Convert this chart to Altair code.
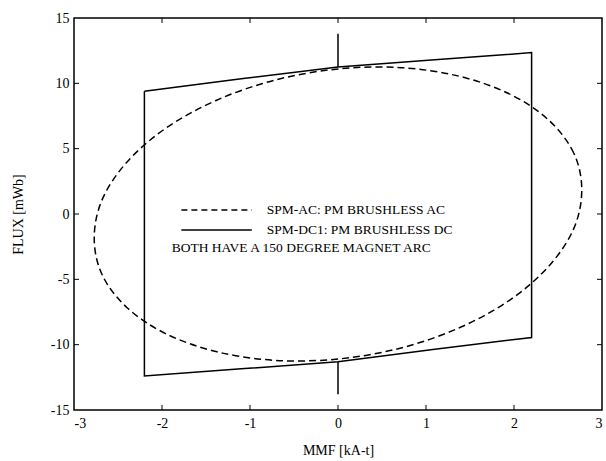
import altair as alt
import pandas as pd

# SPM-AC (dashed ellipse-like loop) (closed loop)
ac_x = [2.77, 2.68, 2.40, 1.96, 1.385, 0.717, 0.0, -0.717, -1.385, -1.96, -2.40, -2.68,
        -2.77, -2.68, -2.40, -1.96, -1.385, -0.717, 0.0, 0.717, 1.385, 1.96, 2.40, 2.68]
ac_y = [1.84, 4.65, 7.15, 9.15, 10.53, 11.20, 11.10, 10.25, 8.69, 6.55, 3.96, 1.10,
        -1.84, -4.65, -7.15, -9.15, -10.53, -11.20, -11.10, -10.25, -8.69, -6.55, -3.96, -1.10]

# SPM-DC1 (solid parallelogram loop)
dc_x = [-2.2, -1.1, 0.0, 1.1, 2.2, 2.2, 1.1, 0.0, -1.1, -2.2, -2.2]
dc_y = [9.4, 10.35, 11.25, 11.8, 12.35, -9.45, -10.35, -11.3, -11.85, -12.4, 9.4]

# vertical spikes at MMF = 0
sp_x = [0.0, 0.0, 0.0, 0.0]
sp_y = [13.8, 11.25, -11.3, -13.8]
sp_seg = ["top", "top", "bot", "bot"]

x_ticks = [-2, -1, 0, 1, 2]
y_ticks = [-10, -5, 0, 5, 10]
x_labels = [-3, -2, -1, 0, 1, 2, 3]
y_labels = [-15, -10, -5, 0, 5, 10, 15]

legend_text = ["SPM-AC: PM BRUSHLESS AC", "SPM-DC1: PM BRUSHLESS DC", "BOTH HAVE A 150 DEGREE MAGNET ARC"]
legend_tx = [-0.81, -0.81, -1.89]
legend_ty = [0.31, -1.22, -2.58]
legend_lx = [-1.78, -0.98]
legend_ly = [0.31, -1.22]

W, H = 528, 392
FONT = "Liberation Serif"

xs = alt.Scale(domain=[-3, 3], nice=False, zero=False)
ys = alt.Scale(domain=[-15, 15], nice=False, zero=False)

ac = pd.DataFrame({"x": ac_x, "y": ac_y, "o": list(range(len(ac_x)))})
dc = pd.DataFrame({"x": dc_x, "y": dc_y, "o": list(range(len(dc_x)))})
sp = pd.DataFrame({"x": sp_x, "y": sp_y, "seg": sp_seg, "o": list(range(len(sp_x)))})

base_x = alt.X("x:Q", scale=xs,
               axis=alt.Axis(values=x_labels, domain=False, ticks=False, grid=False,
                             labelExpr="datum.value + ''", labelFont=FONT, labelFontSize=14,
                             labelColor="black", labelPadding=6,
                             title="MMF  [kA-t]", titleFont=FONT, titleFontSize=14,
                             titleFontWeight="normal", titleColor="black",
                             titleX=W / 2, titleY=40, titleBaseline="middle"))
base_y = alt.Y("y:Q", scale=ys,
               axis=alt.Axis(values=y_labels, domain=False, ticks=False, grid=False,
                             labelExpr="datum.value + ''", labelFont=FONT, labelFontSize=14,
                             labelColor="black", labelPadding=5,
                             title="FLUX  [mWb]", titleFont=FONT, titleFontSize=14,
                             titleFontWeight="normal", titleColor="black",
                             titleX=-56, titleY=H / 2, titleBaseline="middle"))

ac_line = alt.Chart(ac).mark_line(color="black", strokeWidth=1.5, strokeDash=[7, 4],
                                  interpolate="cardinal-closed").encode(
    x=base_x, y=base_y, order="o:Q")
dc_line = alt.Chart(dc).mark_line(color="black", strokeWidth=1.5).encode(
    x=alt.X("x:Q", scale=xs), y=alt.Y("y:Q", scale=ys), order="o:Q")
sp_line = alt.Chart(sp).mark_line(color="black", strokeWidth=1.5).encode(
    x=alt.X("x:Q", scale=xs), y=alt.Y("y:Q", scale=ys), detail="seg:N", order="o:Q")

xt = pd.DataFrame({"x": x_ticks})
yt = pd.DataFrame({"y": y_ticks})
TL = 5
tick_b = alt.Chart(xt).mark_rule(color="black", strokeWidth=1).encode(
    x=alt.X("x:Q", scale=xs), y=alt.value(H), y2=alt.value(H - TL))
tick_t = alt.Chart(xt).mark_rule(color="black", strokeWidth=1).encode(
    x=alt.X("x:Q", scale=xs), y=alt.value(0), y2=alt.value(TL))
tick_l = alt.Chart(yt).mark_rule(color="black", strokeWidth=1).encode(
    y=alt.Y("y:Q", scale=ys), x=alt.value(0), x2=alt.value(TL))
tick_r = alt.Chart(yt).mark_rule(color="black", strokeWidth=1).encode(
    y=alt.Y("y:Q", scale=ys), x=alt.value(W), x2=alt.value(W - TL))

lt = pd.DataFrame({"t": legend_text, "x": legend_tx, "y": legend_ty})
leg_text = alt.Chart(lt).mark_text(align="left", baseline="middle", font=FONT,
                                   fontSize=13.5, color="black").encode(
    x=alt.X("x:Q", scale=xs), y=alt.Y("y:Q", scale=ys), text="t:N")
ll = pd.DataFrame({"x": [legend_lx[0]], "x2": [legend_lx[1]], "y": [legend_ly[0]]})
ll2 = pd.DataFrame({"x": [legend_lx[0]], "x2": [legend_lx[1]], "y": [legend_ly[1]]})
leg_dash = alt.Chart(ll).mark_rule(color="black", strokeWidth=1.5, strokeDash=[6, 4]).encode(
    x=alt.X("x:Q", scale=xs), x2="x2:Q", y=alt.Y("y:Q", scale=ys))
leg_solid = alt.Chart(ll2).mark_rule(color="black", strokeWidth=1.5).encode(
    x=alt.X("x:Q", scale=xs), x2="x2:Q", y=alt.Y("y:Q", scale=ys))

chart = alt.layer(ac_line, dc_line, sp_line, tick_b, tick_t, tick_l, tick_r,
                  leg_dash, leg_solid, leg_text).properties(
    width=W, height=H,
    autosize=alt.AutoSizeParams(type="none"),
    padding={"left": 74, "top": 18, "right": 4, "bottom": 51},
    background="white",
).configure_view(stroke="black", strokeWidth=1.5)

chart.save("out.html", embed_options={"renderer": "svg", "actions": False})
